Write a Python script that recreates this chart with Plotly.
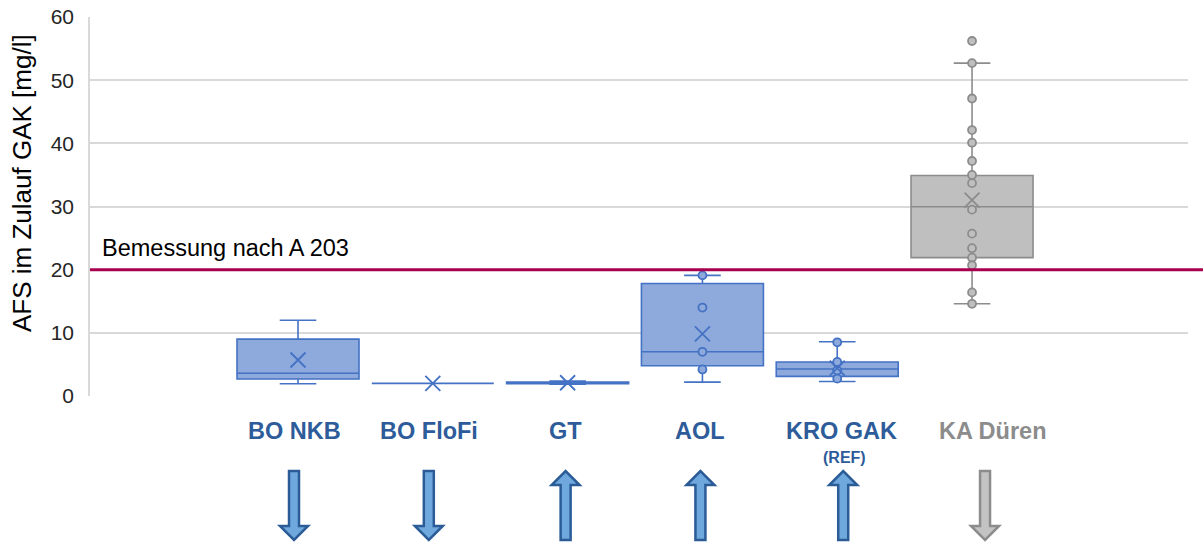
import plotly.graph_objects as go

# --- data -------------------------------------------------------------
categories = ["BO NKB", "BO FloFi", "GT", "AOL", "KRO GAK", "KA Düren"]
q1 = [2.7, 2.0, 1.95, 4.8, 3.1, 21.9]
median = [3.6, 2.0, 2.05, 7.0, 4.27, 29.95]
q3 = [9.0, 2.0, 2.2, 17.8, 5.38, 34.9]
lower_whisker = [1.95, 2.0, 1.85, 2.2, 2.3, 14.6]
upper_whisker = [12.0, 2.0, 2.35, 19.1, 8.6, 52.7]
means = [5.7, 2.0, 2.1, 9.85, 4.4, 31.0]
points = [
    [],
    [],
    [],
    [19.1, 14.0, 7.0, 4.2],
    [8.5, 5.4, 4.05, 2.75],
    [56.2, 52.7, 47.1, 42.1, 40.1, 37.2, 35.0, 33.7, 29.5, 25.7, 23.4, 21.9,
     20.7, 16.4, 14.6],
]
arrow_dirs = ["down", "down", "up", "up", "up", "down"]
design_value = 20
design_label = "Bemessung nach A 203"

# --- styling ----------------------------------------------------------
W, H = 1203, 543
ML, MR, MT, MB = 90, 15, 17, 147
PW, PH = W - ML - MR, H - MT - MB
XR = [-0.543, 7.602]
PX_PER_X = PW / (XR[1] - XR[0])

blue_line, blue_fill = "#4472C4", "#8EA9DB"
grey_line, grey_fill = "#8C8C8C", "#BFBFBF"
label_blue, label_grey = "#2E5C9A", "#8C8C8C"
arrow_blue_edge, arrow_blue_fill = "#2B5C97", "#6FA8DC"
arrow_grey_edge, arrow_grey_fill = "#8C8C8C", "#C3C3C3"
label_xshift = [-4, -4, -2, -2, 4, 21]
arrow_xshift = [-4, -4, -2, -2, 6, 13]
label_font = "Liberation Sans, Arial"

positions = list(range(1, len(categories) + 1))


def paper_y(py):
    """pixel row in the page -> paper y coordinate"""
    return (MT + PH - py) / PH


fig = go.Figure()

for i, cat in enumerate(categories):
    grey = i == len(categories) - 1
    lc = grey_line if grey else blue_line
    fc = grey_fill if grey else blue_fill
    fig.add_trace(go.Box(
        x=[positions[i]], q1=[q1[i]], median=[median[i]], q3=[q3[i]],
        lowerfence=[lower_whisker[i]], upperfence=[upper_whisker[i]],
        width=0.905, whiskerwidth=0.3, boxpoints=False,
        fillcolor=fc, line=dict(color=lc, width=1.6),
        name=cat, showlegend=False, hoverinfo="skip",
    ))
    if points[i]:
        fig.add_trace(go.Scatter(
            x=[positions[i]] * len(points[i]), y=points[i], mode="markers",
            marker=dict(symbol="circle", size=8, color=fc,
                        line=dict(color=lc, width=1.8)),
            showlegend=False, hoverinfo="skip",
        ))
    fig.add_trace(go.Scatter(
        x=[positions[i]], y=[means[i]], mode="markers",
        marker=dict(symbol="x-thin-open", size=15, color=lc,
                    line=dict(color=lc, width=1.8)),
        showlegend=False, hoverinfo="skip",
    ))

# design threshold line and its caption
fig.add_shape(type="line", xref="paper", yref="y", x0=0, x1=1 + MR / PW,
              y0=design_value, y1=design_value,
              line=dict(color="#A8004F", width=3), layer="above")
fig.add_annotation(xref="paper", yref="y", x=10 / PW, y=design_value,
                   yshift=7, xanchor="left", yanchor="bottom",
                   text=design_label, showarrow=False,
                   font=dict(family="Liberation Sans, Arial", size=23.5,
                             color="#000000"))

# y axis title
fig.add_annotation(xref="paper", yref="paper", x=-(ML - 22) / PW,
                   y=paper_y(183), xanchor="center", yanchor="middle",
                   text="AFS im Zulauf GAK [mg/l]", textangle=-90,
                   showarrow=False,
                   font=dict(family="Liberation Sans, Arial", size=26,
                             color="#000000"))

# category labels and trend arrows below the plot
for i, cat in enumerate(categories):
    grey = i == len(categories) - 1
    fig.add_annotation(xref="x", yref="paper", x=positions[i],
                       y=paper_y(431), xshift=label_xshift[i],
                       xanchor="center", yanchor="middle",
                       text=f"<b>{cat}</b>", showarrow=False,
                       font=dict(family=label_font, size=23.5,
                                 color=label_grey if grey else label_blue))
    if cat == "KRO GAK":
        fig.add_annotation(xref="x", yref="paper", x=positions[i],
                           y=paper_y(457), xshift=label_xshift[i] + 3,
                           xanchor="center", yanchor="middle",
                           text="<b>(REF)</b>", showarrow=False,
                           font=dict(family=label_font,
                                     size=16, color=label_blue))

    # block arrow outline, in pixel offsets from the top-centre point
    top, length = 471, 69
    sw, hw, hl = 5, 14, 14
    pts = [(-sw, 0), (sw, 0), (sw, length - hl), (hw, length - hl),
           (0, length), (-hw, length - hl), (-sw, length - hl)]
    if arrow_dirs[i] == "up":
        pts = [(dx, length - dy) for dx, dy in pts]
    cx = positions[i] + arrow_xshift[i] / PX_PER_X
    path = "M " + " L ".join(
        f"{cx + dx / PX_PER_X:.5f},{paper_y(top + dy):.5f}" for dx, dy in pts
    ) + " Z"
    fig.add_shape(type="path", xref="x", yref="paper", path=path,
                  fillcolor=arrow_grey_fill if grey else arrow_blue_fill,
                  line=dict(color=arrow_grey_edge if grey else arrow_blue_edge,
                            width=2.5))

fig.update_layout(
    width=W, height=H,
    margin=dict(l=ML, r=MR, t=MT, b=MB, autoexpand=False),
    paper_bgcolor="white", plot_bgcolor="white",
    boxmode="overlay",
    xaxis=dict(range=XR, showgrid=False, zeroline=False, showline=False,
               showticklabels=False, ticks="", automargin=False),
    yaxis=dict(range=[0, 60], dtick=10, showgrid=True, gridcolor="#D9D9D9",
               gridwidth=1.5, zeroline=False, showline=True,
               linecolor="#D9D9D9", linewidth=1.5, ticks="",
               ticklabelstandoff=10, automargin=False,
               tickfont=dict(family="Liberation Sans, Arial", size=21,
                             color="#262626")),
)

fig.write_html("out.html")
